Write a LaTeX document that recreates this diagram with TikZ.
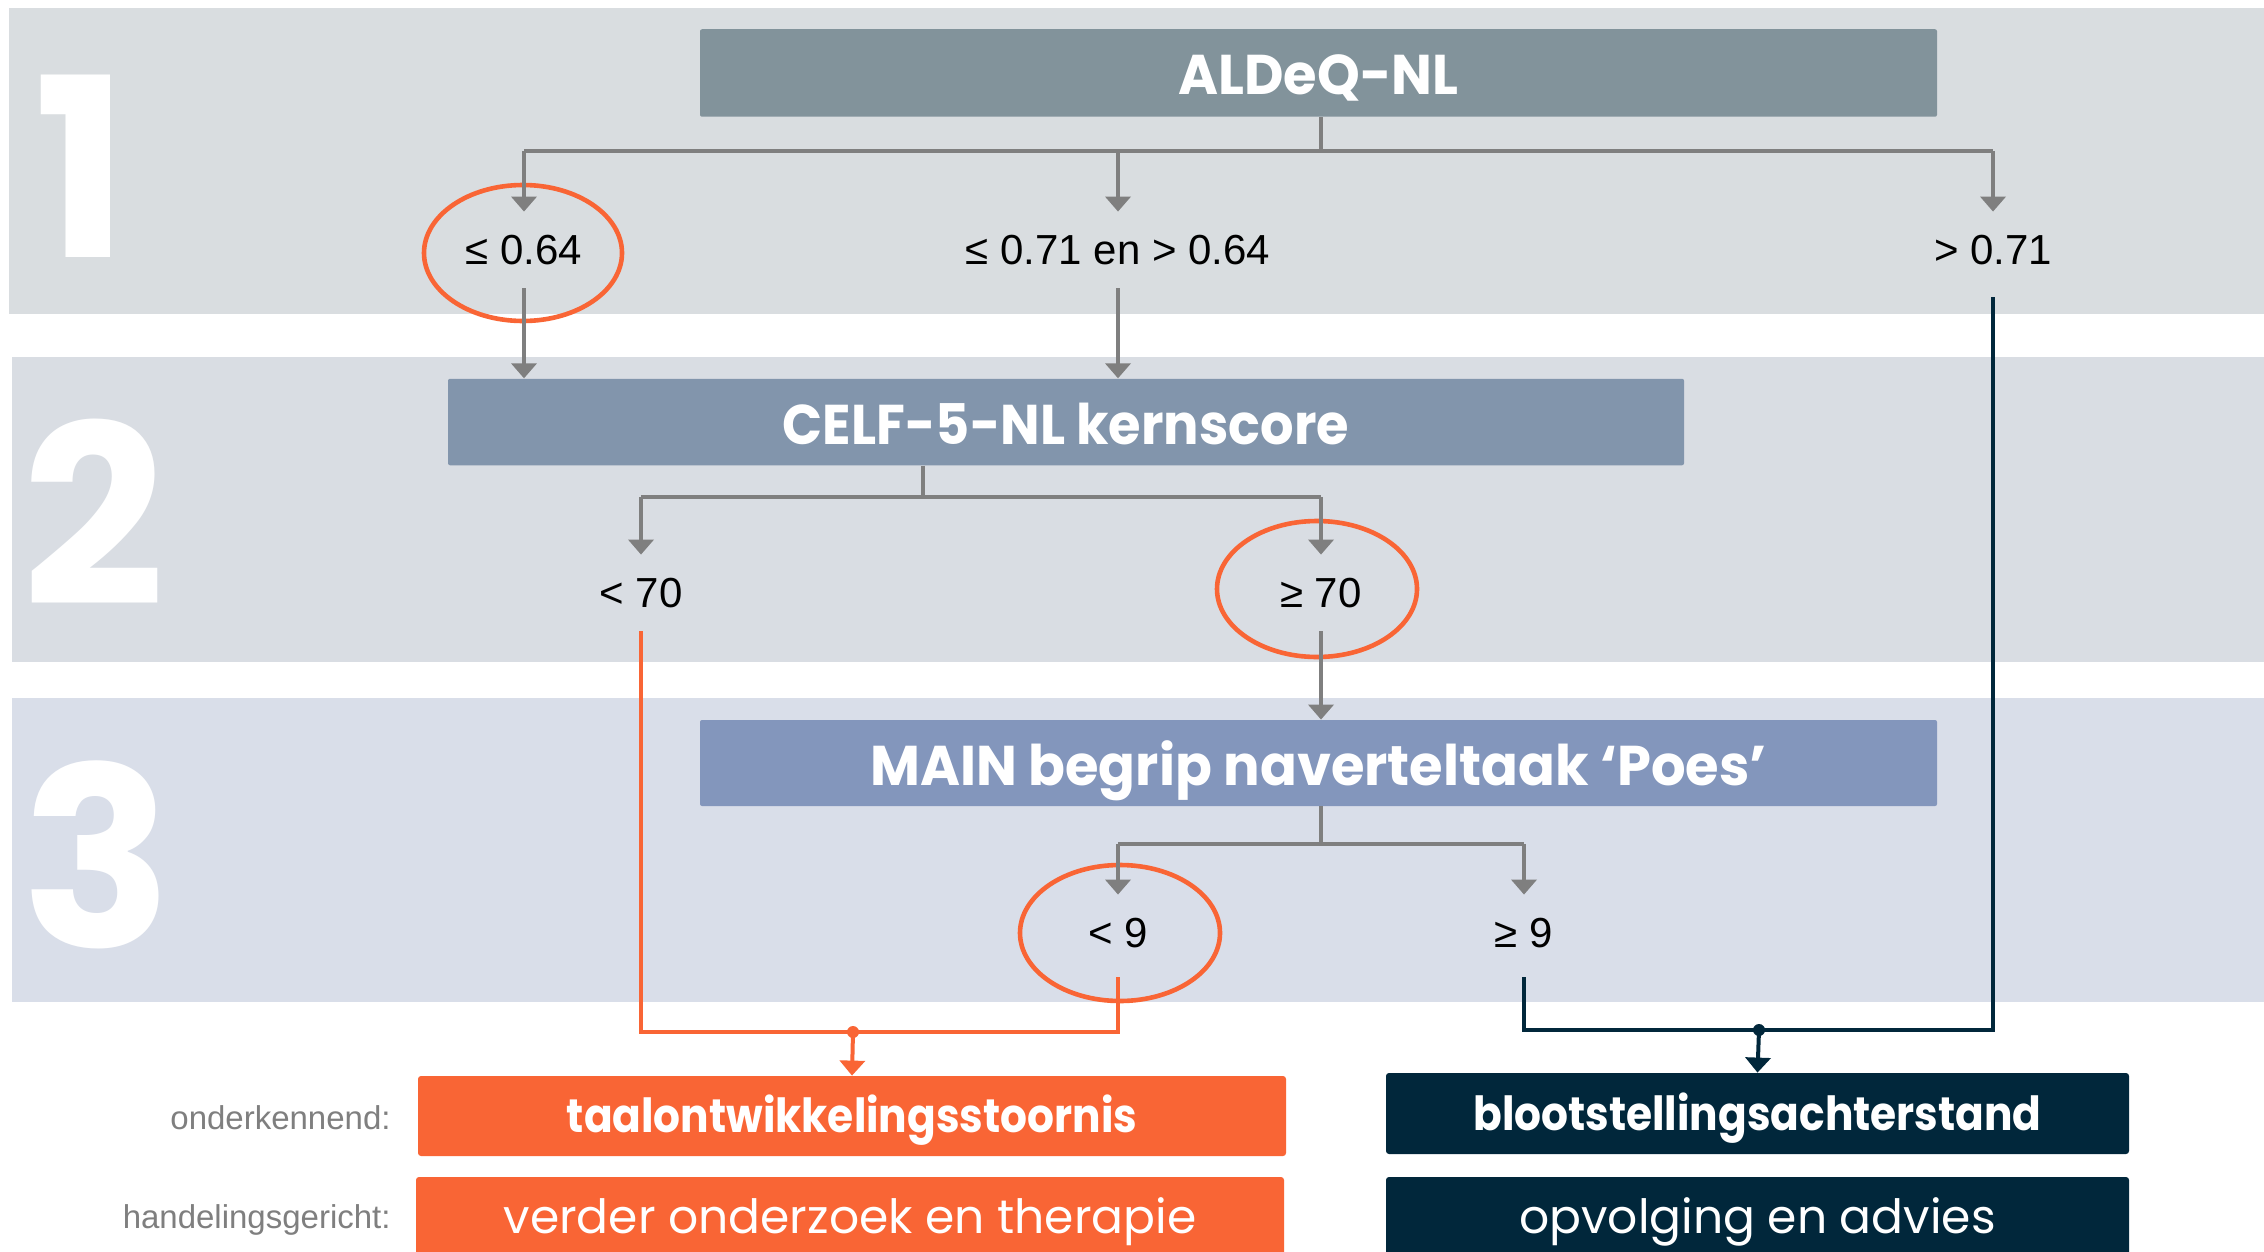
\documentclass[tikz,border=0pt]{standalone}
\usepackage{fontspec}
\setmainfont{Liberation Sans}
\newfontfamily\gothic{Poppins}
\newfontfamily\gothichead[FakeStretch=0.97]{Poppins}
\newfontfamily\gothicheadn[FakeStretch=0.94]{Poppins}
\newfontfamily\gothicout[FakeStretch=0.9]{Poppins}
\usetikzlibrary{arrows.meta}
\definecolor{bandA}{RGB}{217,221,224}
\definecolor{bandB}{RGB}{217,221,227}
\definecolor{bandC}{RGB}{217,222,233}
\definecolor{boxA}{RGB}{130,147,155}
\definecolor{boxB}{RGB}{130,149,172}
\definecolor{boxC}{RGB}{131,150,188}
\definecolor{orng}{RGB}{249,101,53}
\definecolor{navy}{RGB}{1,39,59}
\definecolor{lgray}{RGB}{127,127,127}
\tikzset{
  hbox/.style={text=white, inner sep=0, rounded corners=1pt,
    text height=22pt, text depth=0pt,
    font=\gothichead\bfseries\fontsize{28}{34}\selectfont},
  obox/.style={text=white, inner sep=0, rounded corners=1.5pt,
    minimum width=434pt, minimum height=40pt,
    text height=16.8pt, text depth=0pt,
    font=\gothicout\bfseries\fontsize{23.5}{28}\selectfont},
  rbox/.style={text=white, inner sep=0, rounded corners=1.5pt,
    minimum width=434pt, minimum height=40pt,
    text height=16.8pt, text depth=0pt,
    font=\gothic\fontsize{23.6}{28}\selectfont},
  thr/.style={inner sep=0, minimum height=38pt, text=black,
    font=\fontsize{21}{25}\selectfont},
  lab/.style={inner sep=0, anchor=east, text=lgray,
    font=\fontsize{16.5}{20}\selectfont},
  num/.style={text=white, inner sep=0,
    font=\gothic\bfseries\fontsize{125}{125}\selectfont},
  gl/.style={draw=lgray, line width=2pt},
  gla/.style={gl, -{Triangle[width=12.5pt,length=7.5pt]}},
  ol/.style={draw=orng, line width=2pt},
  nl/.style={draw=navy, line width=2pt},
  ring/.style={draw=orng, line width=2.3pt},
}
\begin{document}
\begin{tikzpicture}[x=0.5pt,y=-0.5pt]
\useasboundingbox (0,0) rectangle (2264,1252);
\fill[white] (0,0) rectangle (2264,1252);
% bands
\fill[bandA] (9,8) rectangle (2264,314);
\fill[bandB] (12,356.5) rectangle (2264,662);
\fill[bandC] (12,698) rectangle (2264,1002);
% numerals
\node[num] (n1) at (81,166) {1};
\node[num] (n2) at (94,512) {2};
\node[num] (n3) at (97,855) {3};
% step boxes
\node[hbox, fill=boxA, minimum width=618.5pt, minimum height=43.75pt] (aldeq) at (1318.5,73) {ALDeQ-NL};
\node[hbox, fill=boxB, minimum width=618pt, minimum height=43.25pt,
  font=\gothicheadn\bfseries\fontsize{28}{34}\selectfont] (celf) at (1066,422) {CELF-5-NL kernscore};
\node[hbox, fill=boxC, minimum width=618.5pt, minimum height=43pt] (main) at (1318.5,763) {MAIN begrip naverteltaak ‘Poes’};
% thresholds
\node[thr] (le64) at (524,250) {≤ 0.64};
\node[thr] (mid) at (1118,250) {≤ 0.71 en > 0.64};
\node[thr] (gt71) at (1993,250) {> 0.71};
\node[thr] (lt70) at (641,593) {< 70};
\node[thr] (ge70) at (1321,593) {≥ 70};
\node[thr] (lt9) at (1118,933) {< 9};
\node[thr] (ge9) at (1524,933) {≥ 9};
% rings
\draw[ring] (523,253) ellipse [x radius=99, y radius=68];
\draw[ring] (1317,589) ellipse [x radius=100, y radius=68];
\draw[ring] (1120,933) ellipse [x radius=100, y radius=68];
% outcome boxes
\node[obox, fill=orng] (taal) at (852,1116) {taalontwikkelingsstoornis};
\node[rbox, fill=orng] (verder) at (850,1217) {verder onderzoek en therapie};
\node[obox, fill=navy, minimum width=371.5pt, minimum height=40.5pt] (bloot) at (1757.5,1113.5) {blootstellingsachterstand};
\node[rbox, fill=navy, minimum width=371.5pt] (opv) at (1757.5,1217) {opvolging en advies};
\node[lab] (l1) at (391,1118) {onderkennend:};
\node[lab] (l2) at (391,1220) {handelingsgericht:};
% step 1 connectors
\coordinate (ja) at (1321,151);
\draw[gl] (aldeq.south -| ja) -- (ja);
\draw[gl] (le64.north |- ja) -- (gt71.north |- ja);
\draw[gla] (le64.north |- ja) -- (le64.north);
\draw[gla] (mid.north |- ja) -- (mid.north);
\draw[gla] (gt71.north |- ja) -- (gt71.north);
\draw[gla] (le64.south) -- (le64.south |- celf.north);
\draw[gla] (mid.south) -- (mid.south |- celf.north);
% step 2 connectors
\coordinate (jc) at (923,497);
\draw[gl] (celf.south -| jc) -- (jc);
\draw[gl] (lt70.north |- jc) -- (ge70.north |- jc);
\draw[gla] (lt70.north |- jc) -- (lt70.north);
\draw[gla] (ge70.north |- jc) -- (ge70.north);
\draw[gla] (ge70.south) -- (ge70.south |- main.north);
% step 3 connectors
\coordinate (jm) at (1321,844);
\draw[gl] (main.south -| jm) -- (jm);
\draw[gl] (lt9.north |- jm) -- (ge9.north |- jm);
\draw[gla] (lt9.north |- jm) -- (lt9.north);
\draw[gla] (ge9.north |- jm) -- (ge9.north);
% outcome connectors
\coordinate (jo) at (853,1032);
\draw[ol] (lt70.south) |- (jo) -| ([yshift=-3pt]lt9.south);
\fill[orng] (jo) circle (6);
\draw[ol, -{Triangle[width=12.5pt,length=7.5pt]}] (jo) -- (taal.north);
\coordinate (jn) at (1759,1030);
\draw[nl] ([yshift=-3pt]ge9.south) |- (jn) -| ([yshift=-4.5pt]gt71.south);
\fill[navy] (jn) circle (6);
\draw[nl, -{Triangle[width=12.5pt,length=7.5pt]}] (jn) -- (bloot.north);
\end{tikzpicture}
\end{document}
